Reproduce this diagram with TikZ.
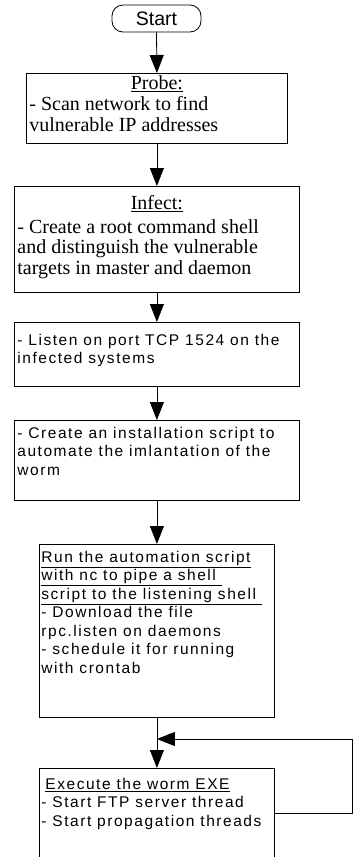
\documentclass[tikz,border=0pt]{standalone}
\usepackage{fontspec}
\setmainfont{Liberation Serif}
\newfontfamily\labelsans{Liberation Sans}
\newfontfamily\stepsans[LetterSpace=10]{Liberation Sans}
\usetikzlibrary{arrows.meta}

% text settings for the two kinds of boxes
\newcommand\serifbody{\fontsize{20}{20.5}\selectfont}
\newcommand\sansbody{\stepsans\fontsize{15.5}{18.5}\selectfont}
% fixed-size text area: width, height, content
\newcommand\boxtext[3]{\begin{minipage}[t][#2][t]{#1}\raggedright #3\end{minipage}}

\tikzset{
  flowbox/.style={draw=black, line width=0.8pt, inner xsep=3pt, inner ysep=0pt, anchor=north west},
  flowarrow/.style={draw=black, line width=0.8pt, -{Triangle[width=14pt,length=18pt]}},
  startbox/.style={draw=black, line width=0.8pt, rounded corners=11pt,
    minimum width=89pt, minimum height=27pt, inner sep=0pt},
}

\begin{document}
\begin{tikzpicture}[x=1pt,y=-1pt]
\useasboundingbox (0,0) rectangle (353,857);

% terminal
\node[startbox] (start) at (156.5,18.5) {\labelsans\fontsize{19.5}{22}\selectfont Start};

% process steps
\node[flowbox] (probe) at (26,73) {\boxtext{255pt}{70pt}{\serifbody
  \rule{0pt}{16pt}\makebox[\linewidth]{\underline{Probe:}}\\[1pt]
  - Scan network to find\\
  vulnerable IP addresses}};

\node[flowbox] (infect) at (14,186) {\boxtext{279pt}{106pt}{\serifbody
  \rule{0pt}{23pt}\makebox[\linewidth]{\underline{Infect:}}\\[3.5pt]
  - Create a root command shell\\
  and distinguish the vulnerable\\
  targets in master and daemon}};

\node[flowbox] (listen) at (14,322) {\boxtext{279pt}{64pt}{\sansbody
  \rule{0pt}{23pt}- Listen on port TCP 1524 on the\\
  infected systems}};

\node[flowbox] (create) at (14,420) {\boxtext{279pt}{80pt}{\sansbody
  \rule{0pt}{18pt}- Create an installation script to\\
  automate the imlantation of the\\
  worm}};

\node[flowbox, inner xsep=2pt] (run) at (39,544) {\boxtext{231pt}{173pt}{\sansbody
  \rule{0pt}{18pt}\underline{Run the automation script}\\
  \underline{with nc to pipe a shell }\\
  \underline{script to the listening shell }\\
  - Download the file\\
  rpc.listen on daemons\\
  - schedule it for running\\
  with crontab}};

\node[flowbox, inner xsep=2pt] (exec) at (39,768) {\boxtext{231pt}{90pt}{\sansbody
  \rule{0pt}{21pt}\hspace*{4pt}\underline{Execute the worm EXE}\\
  - Start FTP server thread\\
  - Start propagation threads}};

% connectors
\draw[flowarrow] (start.south) -- (probe.north);
\draw[flowarrow] (probe.south) -- (infect.north);
\draw[flowarrow] (infect.south) -- (listen.north);
\draw[flowarrow] (listen.south) -- (create.north);
\draw[flowarrow] (create.south) -- (run.north);
\draw[flowarrow] (run.south) -- (exec.north);

% repeat loop back into the last step
\coordinate (loopR) at (352,739);
\draw[flowarrow] (exec.east) -- (exec.east -| loopR) -- (loopR) -- (run.south |- loopR);
\end{tikzpicture}
\end{document}
